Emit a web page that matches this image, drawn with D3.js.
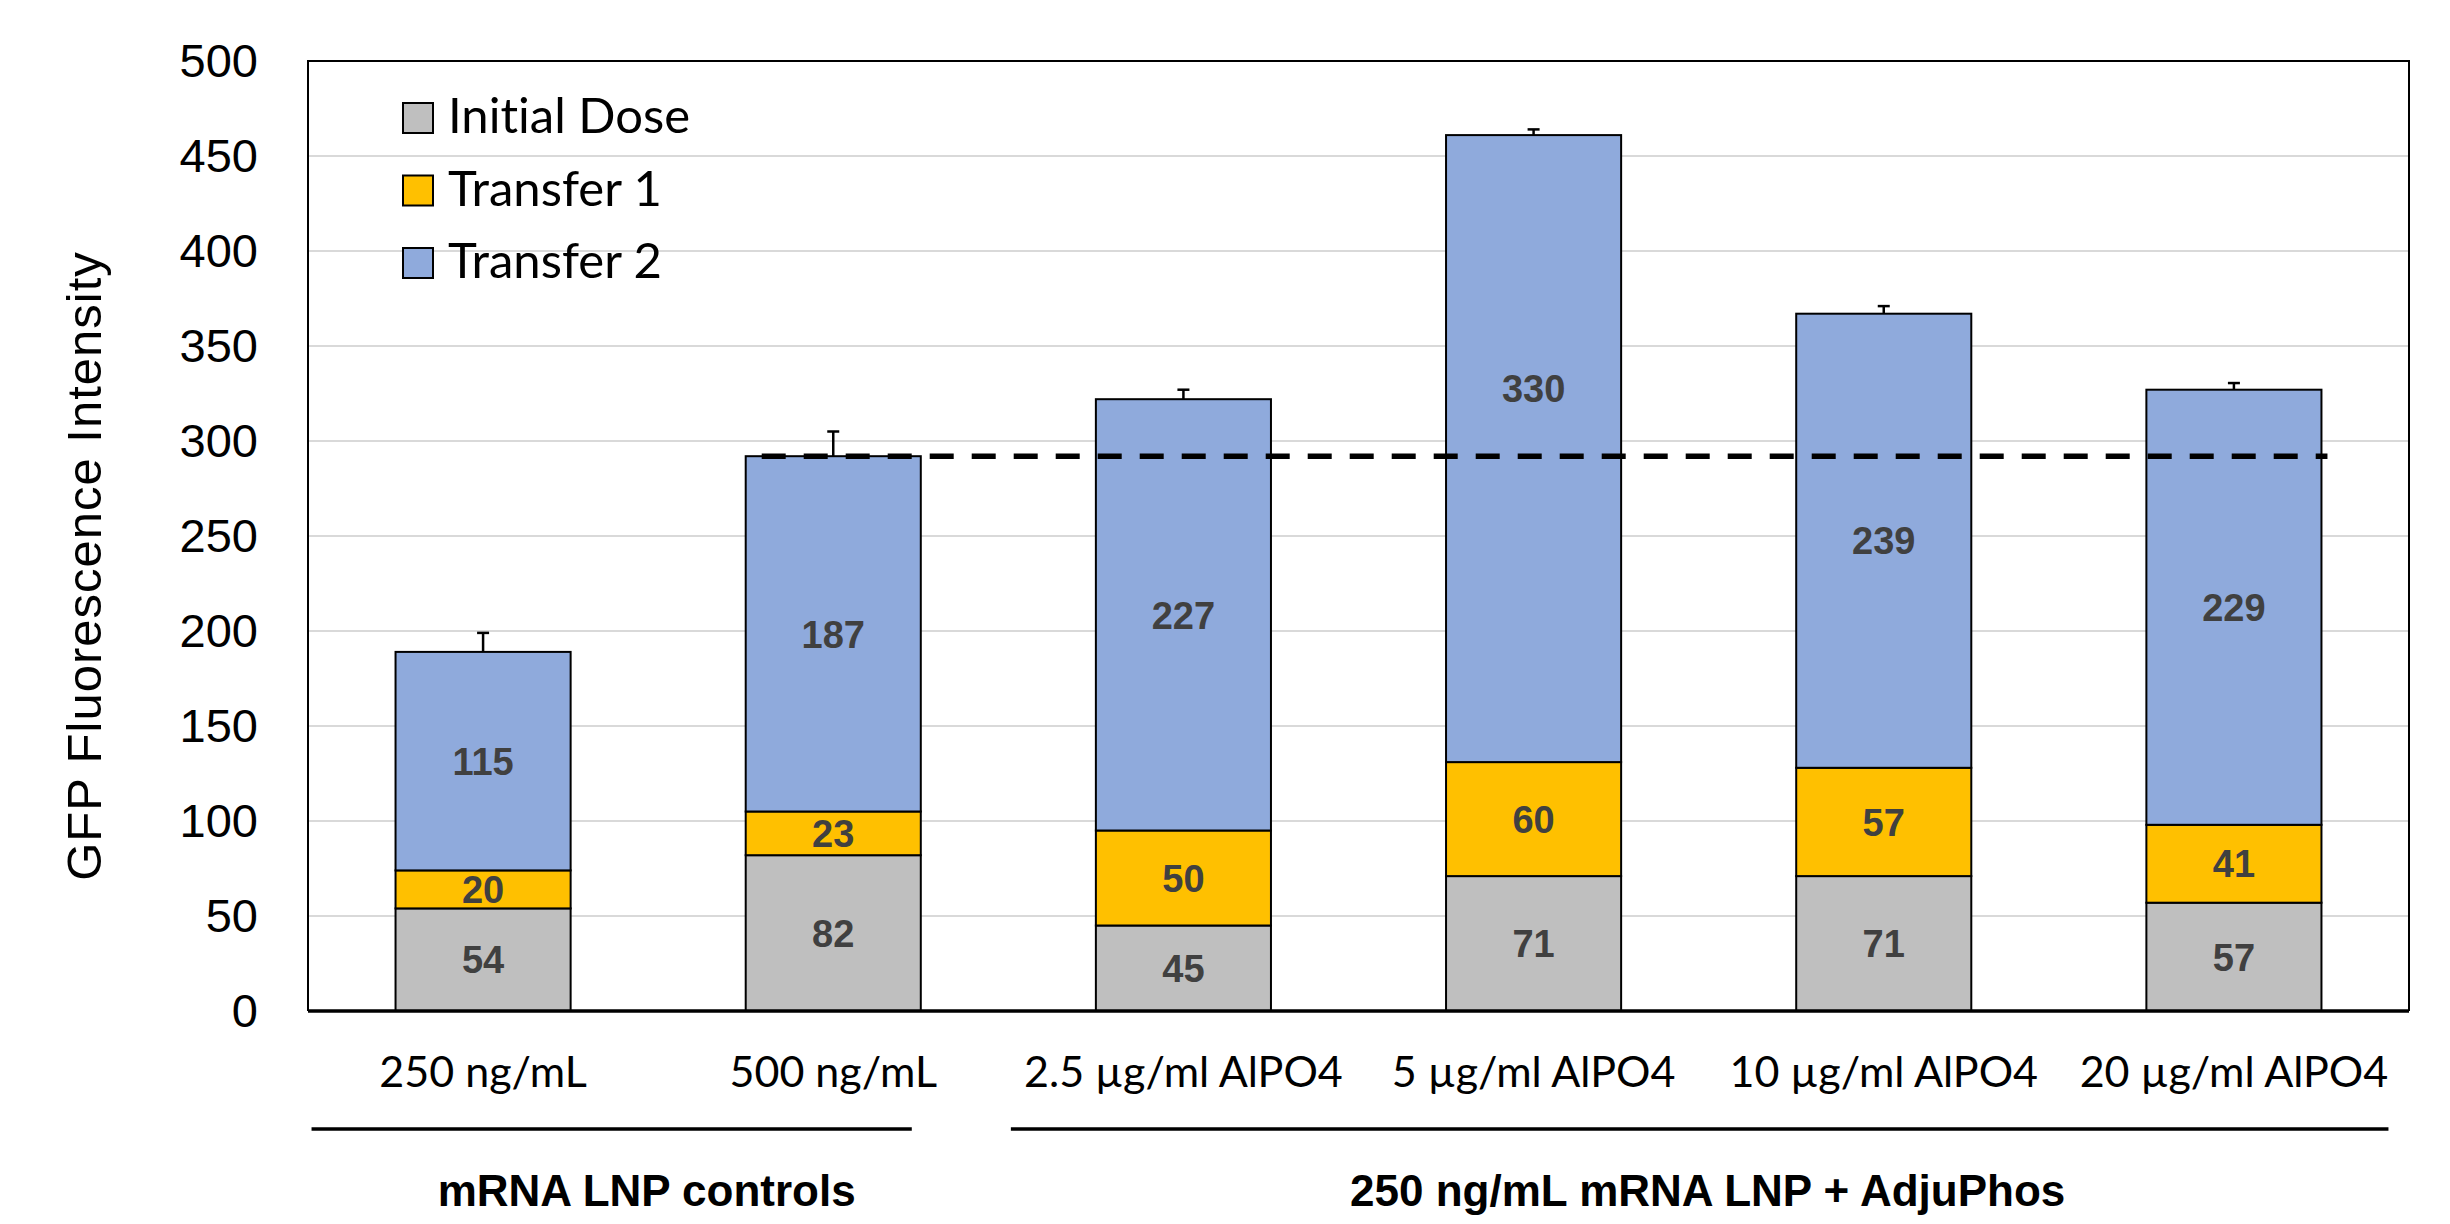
<!DOCTYPE html>
<html>
<head>
<meta charset="utf-8">
<script src="https://cdn.jsdelivr.net/npm/d3@7"></script>
<style>
  html, body { margin: 0; padding: 0; background: #fff; }
  svg { display: block; }
  text { font-variant-ligatures: none; font-feature-settings: "liga" 0; }
</style>
</head>
<body>
<svg id="chart" width="2450" height="1224"></svg>
<script>
// ---- data ----
const categories = ["250 ng/mL", "500 ng/mL", "2.5 µg/ml AlPO4", "5 µg/ml AlPO4", "10 µg/ml AlPO4", "20 µg/ml AlPO4"];
const seriesNames = ["Initial Dose", "Transfer 1", "Transfer 2"];
const initialDose = [54, 82, 45, 71, 71, 57];
const transfer1 = [20, 23, 50, 60, 57, 41];
const transfer2 = [115, 187, 227, 330, 239, 229];
const errorPlus = [10, 13, 5, 3, 4, 3.5];
const yTicks = [0, 50, 100, 150, 200, 250, 300, 350, 400, 450, 500];
const referenceValue = 292;
const groupNames = ["mRNA LNP controls", "250 ng/mL mRNA LNP + AdjuPhos"];
const groupStart = [0, 2];
const groupEnd = [1, 5];

const colors = ["#BFBFBF", "#FFC000", "#8FAADC"];

// ---- layout ----
const L = 308, R = 2409, T = 61, B = 1011;
const svg = d3.select("#chart");

const x = d3.scaleBand().domain(categories).range([L, R]).paddingInner(0.5).paddingOuter(0.25);
const y = d3.scaleLinear().domain([0, 500]).range([B, T]);

// gridlines
svg.append("g").selectAll("line").data(yTicks.filter(v => v > 0)).join("line")
  .attr("x1", L).attr("x2", R)
  .attr("y1", d => y(d)).attr("y2", d => y(d))
  .attr("stroke", "#D9D9D9").attr("stroke-width", 2);

// stacked data
const rows = categories.map((c, i) => ({ cat: c, s0: initialDose[i], s1: transfer1[i], s2: transfer2[i] }));
const stack = d3.stack().keys(["s0", "s1", "s2"])(rows);

const segG = svg.append("g");
stack.forEach((layer, li) => {
  segG.append("g").selectAll("rect").data(layer).join("rect")
    .attr("x", d => x(d.data.cat))
    .attr("width", x.bandwidth())
    .attr("y", d => y(d[1]))
    .attr("height", d => y(d[0]) - y(d[1]))
    .attr("fill", colors[li])
    .attr("stroke", "#000").attr("stroke-width", 2);
});

// error bars
const errG = svg.append("g");
rows.forEach((r, i) => {
  const tot = r.s0 + r.s1 + r.s2;
  const cx = x(r.cat) + x.bandwidth() / 2;
  errG.append("line").attr("x1", cx).attr("x2", cx).attr("y1", y(tot)).attr("y2", y(tot + errorPlus[i]))
    .attr("stroke", "#000").attr("stroke-width", 2.5);
  errG.append("line").attr("x1", cx - 6).attr("x2", cx + 6).attr("y1", y(tot + errorPlus[i])).attr("y2", y(tot + errorPlus[i]))
    .attr("stroke", "#000").attr("stroke-width", 2.5);
});

// reference dashed line
svg.append("line")
  .attr("x1", x(categories[1]) + 16)
  .attr("x2", x(categories[5]) + x.bandwidth() + 6)
  .attr("y1", y(referenceValue)).attr("y2", y(referenceValue))
  .attr("stroke", "#000").attr("stroke-width", 5.5).attr("stroke-dasharray", "24 18");

// data labels
const lblG = svg.append("g");
stack.forEach((layer, li) => {
  layer.forEach(d => {
    const v = d[1] - d[0];
    let ly = y((d[0] + d[1]) / 2);
    const refY = y(referenceValue);
    if (Math.abs(ly - refY) < 30) ly = refY - 68;
    lblG.append("text")
      .attr("x", x(d.data.cat) + x.bandwidth() / 2)
      .attr("y", ly)
      .attr("dy", "0.36em")
      .attr("text-anchor", "middle")
      .attr("font-family", "'Liberation Sans', Arial, sans-serif")
      .attr("font-weight", "bold")
      .attr("font-size", 38)
      .attr("fill", "#404040")
      .text(v);
  });
});

// plot frame
svg.append("path")
  .attr("d", `M${L},${B} L${L},${T} L${R},${T} L${R},${B}`)
  .attr("fill", "none").attr("stroke", "#000").attr("stroke-width", 2);
svg.append("line").attr("x1", L).attr("x2", R).attr("y1", B).attr("y2", B)
  .attr("stroke", "#000").attr("stroke-width", 3.5);

// y axis
const yAxis = svg.append("g").attr("transform", `translate(${L},0)`)
  .call(d3.axisLeft(y).tickValues(yTicks).tickSize(0).tickPadding(50));
yAxis.select(".domain").remove();
yAxis.selectAll("text")
  .attr("font-family", "'Liberation Sans', Arial, sans-serif")
  .attr("font-size", 47).attr("fill", "#000");

// x axis labels
const xAxis = svg.append("g").attr("transform", `translate(0,${B})`)
  .call(d3.axisBottom(x).tickSize(0).tickPadding(0));
xAxis.select(".domain").remove();
xAxis.selectAll("text")
  .attr("y", 76).attr("dy", 0)
  .attr("font-family", "Lato, 'Liberation Sans', sans-serif")
  .attr("font-size", 43).attr("fill", "#000");

// y axis title
svg.append("text")
  .attr("transform", "translate(101,566) rotate(-90)")
  .attr("text-anchor", "middle")
  .attr("font-family", "'Liberation Sans', Arial, sans-serif")
  .attr("font-size", 49)
  .attr("letter-spacing", 1)
  .attr("fill", "#000")
  .text("GFP Fluorescence Intensity");

// group lines & labels
const groupLineOffsets = [[-84, -9], [-85, 67]];
const groupLabelShift = [35, 8];
groupNames.forEach((g, i) => {
  const x1 = x(categories[groupStart[i]]) + groupLineOffsets[i][0];
  const x2 = x(categories[groupEnd[i]]) + x.bandwidth() + groupLineOffsets[i][1];
  svg.append("line").attr("x1", x1).attr("x2", x2).attr("y1", 1129).attr("y2", 1129)
    .attr("stroke", "#000").attr("stroke-width", 3.5);
  svg.append("text")
    .attr("x", (x1 + x2) / 2 + groupLabelShift[i]).attr("y", 1206)
    .attr("text-anchor", "middle")
    .attr("font-family", "'Liberation Sans', Arial, sans-serif")
    .attr("font-weight", "bold").attr("font-size", 44).attr("fill", "#000")
    .text(g);
});

// legend
const leg = svg.append("g").attr("transform", "translate(403,103)");
seriesNames.forEach((s, i) => {
  const gy = i * 72.5;
  leg.append("rect").attr("x", 0).attr("y", gy).attr("width", 30).attr("height", 30)
    .attr("fill", colors[i]).attr("stroke", "#000").attr("stroke-width", 2);
  leg.append("text").attr("x", 45).attr("y", gy + 30)
    .attr("font-family", "Lato, 'Open Sans', sans-serif")
    .attr("font-size", 49).attr("fill", "#000")
    .text(s);
});
</script>
</body>
</html>
